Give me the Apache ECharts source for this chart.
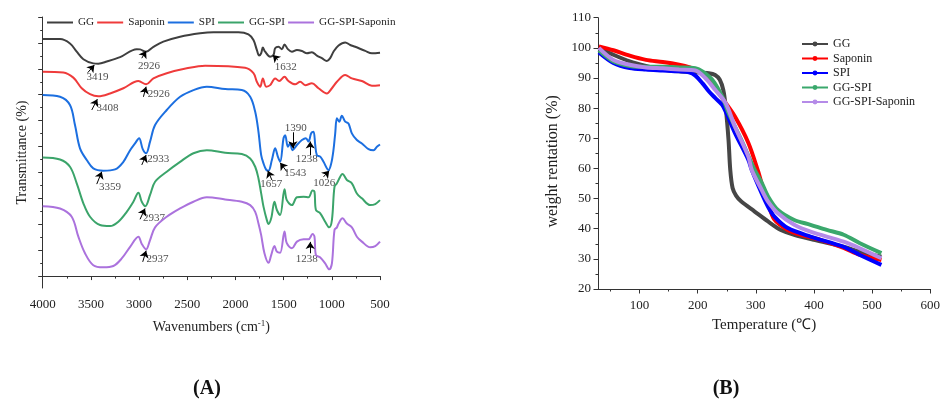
<!DOCTYPE html>
<html>
  <head>
    <meta charset="utf-8" />
    <script src="https://cdn.jsdelivr.net/npm/echarts@6.0.0/dist/echarts.min.js"></script>
    <style>
      body { margin: 0; background: #fff; }
      #ir { position: absolute; left: 0; top: 0; width: 470px; height: 401px; }
      #tga { position: absolute; left: 470px; top: 0; width: 473px; height: 401px; }
    </style>
  </head>
  <body>
    <div id="ir"></div>
    <div id="tga"></div>
    <script type="text/javascript">
      // ---- data (A): FTIR, [wavenumber, transmittance in arbitrary units] ----
      const seriesNames = ['GG', 'Saponin', 'SPI', 'GG-SPI', 'GG-SPI-Saponin'];

      const irGG = [[4000,91.5],[3820,91.5],[3717,89.8],[3647,86.6],[3578,83.7],[3475,82.1],[3423,82.0],[3335,82.8],[3197,84.5],[3024,87.6],
        [2990,87.5],[2927,86.6],[2851,88.5],[2748,90.5],[2574,92.4],[2367,93.7],[2228,94.1],[1969,94.1],[1865,93.3],[1813,91.1],
        [1778,87.3],[1754,85.1],[1733,86.0],[1716,88.2],[1692,86.6],[1640,84.7],[1605,85.3],[1588,87.9],[1553,88.5],[1518,87.6],
        [1491,89.4],[1456,87.6],[1414,86.6],[1362,87.3],[1310,86.9],[1258,86.0],[1207,86.4],[1155,85.1],[1103,84.1],[1051,83.0],
        [1017,84.1],[983,86.6],[930,89.0],[861,90.2],[809,89.2],[757,88.5],[653,86.9],[584,86.0],[500,86.2]];

      const irSaponin = [[4000,78.9],[3786,78.6],[3682,76.6],[3595,72.5],[3509,70.2],[3423,69.4],[3301,70.5],[3163,72.5],[3007,75.3],[2927,74.0],
        [2851,76.3],[2713,78.3],[2505,80.2],[2315,81.2],[1900,80.4],[1813,78.3],[1778,75.0],[1743,73.1],[1716,76.3],[1681,73.1],
        [1640,73.7],[1588,76.3],[1546,75.3],[1491,76.9],[1450,75.3],[1380,74.0],[1328,75.0],[1276,73.7],[1207,74.4],[1138,72.5],
        [1051,70.5],[999,72.5],[947,75.0],[861,77.6],[792,76.3],[688,75.3],[584,73.5],[500,73.7]];

      const irSPI = [[4000,69.9],[3820,69.2],[3717,66.0],[3665,58.3],[3613,49.3],[3543,44.8],[3475,41.6],[3371,40.7],[3249,41.2],[3163,44.1],
        [3093,48.6],[3042,51.2],[3000,53.2],[2962,49.0],[2927,47.4],[2886,51.9],[2834,58.3],[2713,64.1],[2574,69.2],[2436,71.8],
        [2297,73.1],[2107,72.2],[1934,71.8],[1847,69.2],[1795,63.4],[1761,55.7],[1733,46.7],[1709,43.5],[1680,41.0],[1657,40.7],
        [1622,44.8],[1588,49.3],[1560,46.1],[1536,44.1],[1501,53.2],[1484,54.4],[1456,49.9],[1432,51.2],[1408,48.6],[1362,50.6],
        [1310,52.5],[1269,53.2],[1242,51.9],[1214,55.1],[1190,55.7],[1172,50.6],[1155,46.7],[1120,46.1],[1086,44.1],[1034,40.9],
        [1006,43.5],[983,48.6],[965,55.0],[947,60.9],[923,59.6],[896,61.9],[861,59.6],[827,58.9],[792,55.1],[740,52.5],
        [688,51.2],[619,49.0],[567,48.6],[532,49.9],[500,50.8]];

      const irGGSPI = [[4000,45.8],[3820,45.0],[3717,42.2],[3647,35.8],[3578,28.1],[3509,22.9],[3405,19.7],[3301,19.3],[3215,21.0],[3128,24.8],
        [3059,28.7],[3007,32.2],[2972,28.7],[2935,27.0],[2886,31.3],[2834,36.4],[2713,40.3],[2574,44.1],[2436,47.4],[2297,48.6],
        [2107,47.6],[1934,47.1],[1847,45.4],[1795,42.2],[1761,37.7],[1733,31.9],[1709,26.8],[1674,21.6],[1657,20.1],[1629,22.3],
        [1595,28.7],[1570,25.5],[1536,23.6],[1491,33.5],[1467,29.3],[1414,27.4],[1362,30.4],[1293,30.6],[1242,30.4],[1200,33.0],
        [1180,32.6],[1165,25.5],[1120,24.2],[1069,21.0],[1027,18.8],[999,21.6],[972,34.5],[947,35.8],[930,37.1],[889,39.4],
        [844,37.1],[792,35.8],[740,31.9],[688,30.0],[601,27.4],[549,27.8],[500,29.3]];

      const irGGSPISaponin = [[4000,27.0],[3820,26.1],[3699,22.9],[3630,15.2],[3561,8.8],[3475,4.2],[3371,3.4],[3267,3.9],[3180,6.8],[3093,11.3],
        [3007,15.2],[2972,12.4],[2927,10.3],[2886,13.9],[2834,18.8],[2713,22.9],[2574,26.1],[2436,28.7],[2297,30.4],[2107,29.6],
        [1934,28.7],[1847,27.4],[1795,24.8],[1761,20.3],[1733,15.8],[1699,8.8],[1657,5.1],[1629,8.1],[1595,11.6],[1570,9.4],
        [1536,9.0],[1491,17.2],[1467,12.7],[1414,10.7],[1362,13.3],[1293,14.2],[1242,14.2],[1200,16.2],[1180,15.2],[1165,8.1],
        [1120,7.2],[1069,4.9],[1027,2.6],[999,4.9],[972,17.8],[947,18.8],[930,20.3],[889,22.3],[844,20.3],[792,18.8],
        [740,15.2],[688,13.3],[601,11.1],[549,11.6],[500,13.3]];

      // peak labels [wavenumber, value, text] and arrows [tail wn, tail value, head wn, head value]
      const irPeakLabels = [[3431,76.7,'3419'],[2896,81.1,'2926'],[1479,80.6,'1632'],[3327,64.7,'3408'],[2797,70.3,'2926'],
        [3301,34.5,'3359'],[2800,45.1,'2933'],[1629,35.4,'1657'],[1380,39.7,'1543'],[1079,36.0,'1026'],[1373,57.3,'1390'],
        [1259,45.2,'1238'],[2844,22.5,'2937'],[2808,6.4,'2937'],[1259,6.4,'1238']];
      const irArrows = [[3533,78.5,3464,81.5],[2972,84.1,2927,86.9],[1560,83.4,1612,85.3],[3491,64.1,3433,68.3],[2955,69.2,2927,73.1],
        [3439,35.5,3387,40.3],[2972,42.9,2927,46.7],[1622,37.1,1664,40.7],[1466,40.3,1536,43.7],[1086,38.3,1027,40.7],
        [1404,55.5,1404,49.3],[1224,46.7,1224,51.9],[2990,21.9,2938,26.1],[2962,5.5,2927,9.8],[1224,8.8,1224,13.2]];

      const irMajorTicks = [0,10,20,30,40,50,60,70,80,90,100];
      const irMinorTicks = [5,15,25,35,45,55,65,75,85,95];

      // ---- data (B): TGA, [temperature, weight %] ----
      const tgaGG = [[30,100],[55,97.7],[83,95.5],[111,94],[140,92.8],[168,92.2],[196,91.9],[219,91.6],[230,91],[238,89.4],
        [244,86],[248,80.6],[253,69.5],[256,59.5],[260,53.5],[266,51],[275,49],[298,45.7],[321,42.4],[343,39.6],
        [366,38],[400,36.3],[451,34],[479,32.4],[516,30.7]];
      const tgaSaponin = [[30,100.5],[55,99.2],[83,97.4],[111,96],[140,95.3],[168,94.4],[185,93.6],[202,92.2],[225,88.3],[244,82.8],
        [264,77.2],[287,68.5],[304,59],[310,55],[321,48.5],[332,43],[355,39.6],[377,38],[411,36.3],[451,33.6],[479,31.3],[516,29.6]];
      const tgaSPI = [[30,98.5],[55,95],[83,93.3],[111,92.8],[140,92.5],[168,92.2],[185,91.9],[196,90.8],[208,88.3],[219,85.6],
        [230,83.4],[242,81.1],[248,78.9],[264,71.8],[287,62.9],[293,59.5],[310,51.8],[321,47.3],[332,44],[355,40.2],
        [394,37.4],[451,34],[479,31.3],[516,28]];
      const tgaGGSPI = [[30,99.2],[55,95.5],[83,94],[111,93.7],[140,93.7],[168,93.5],[196,93.2],[208,92.2],[225,89.4],[242,83.9],
        [253,78.4],[275,69.5],[298,59.5],[310,55.3],[321,50.7],[338,46.2],[366,42.9],[394,41.3],[422,39.6],[451,38],[479,35.2],[516,31.9]];
      const tgaGGSPISaponin = [[30,100],[55,96],[83,94.4],[111,93.5],[140,93.2],[168,92.8],[196,92.5],[213,90],[230,86.1],[248,81.7],
        [264,73.9],[287,64],[293,59.5],[310,52.9],[321,49],[338,45.1],[366,41.3],[394,39],[451,35.7],[479,33.5],[516,30.2]];

      const tgaXTicks = [100,200,300,400,500,600];
      const tgaXMinorTicks = [50,150,250,350,450,550];

      // ---- styling ----
      const serif = 'Liberation Serif, Times New Roman, serif';
      const axisColor = '#333';
      const irColors = ['#3f3f3f', '#ef3b3b', '#1c6fe0', '#3ba46a', '#ab72dd'];
      const tgaColors = ['#464646', '#ff0000', '#0000ff', '#3aa86c', '#b58be8'];

      // ---------------- chart A ----------------
      const irChart = echarts.init(document.getElementById('ir'));
      const irData = [irGG, irSaponin, irSPI, irGGSPI, irGGSPISaponin];

      const irSeries = irData.map((d, i) => ({
        name: seriesNames[i],
        type: 'line',
        data: d,
        symbol: 'none',
        smooth: 0.35,
        lineStyle: { color: irColors[i], width: 2 },
        itemStyle: { color: irColors[i] }
      }));
      irSeries.push({
        name: 'peaks',
        type: 'scatter',
        data: irPeakLabels,
        symbolSize: 0,
        silent: true,
        label: {
          show: true,
          position: 'inside',
          formatter: p => p.value[2],
          fontFamily: serif,
          fontSize: 11,
          color: '#222'
        },
        markLine: {
          silent: true,
          symbol: ['none', 'arrow'],
          symbolSize: 7,
          label: { show: false },
          lineStyle: { color: '#000', width: 1, type: 'solid' },
          data: irArrows.map(a => [{ coord: [a[0], a[1]] }, { coord: [a[2], a[3]] }])
        }
      });

      irChart.setOption({
        animation: false,
        title: {
          text: '(A)',
          left: 202,
          textAlign: 'center',
          top: 374,
          textStyle: { fontFamily: serif, fontSize: 20, fontWeight: 'bold', color: '#111' }
        },
        legend: {
          data: seriesNames,
          left: 47,
          top: 17,
          padding: 0,
          icon: 'rect',
          itemWidth: 26,
          itemHeight: 2,
          itemGap: 3,
          textStyle: { fontFamily: serif, fontSize: 11.2, color: '#222' }
        },
        grid: { left: 42.7, right: 90, top: 17, bottom: 113 },
        xAxis: {
          type: 'value',
          min: 500,
          max: 4000,
          interval: 500,
          inverse: true,
          name: 'Wavenumbers (cm{sup|-1})',
          nameLocation: 'middle',
          nameGap: 31,
          nameTextStyle: {
            fontFamily: serif, fontSize: 14, color: '#222',
            rich: { sup: { fontFamily: serif, fontSize: 9, verticalAlign: 'top', padding: [0, 0, 7, 0] } }
          },
          axisLine: { lineStyle: { color: axisColor } },
          axisTick: { length: 4, lineStyle: { color: axisColor } },
          minorTick: { show: true, splitNumber: 2, length: 2.5, lineStyle: { color: axisColor } },
          axisLabel: { fontFamily: serif, fontSize: 13, color: '#222', margin: 10, formatter: v => String(v) },
          splitLine: { show: false }
        },
        yAxis: [
          {
            type: 'value',
            min: -4.6,
            max: 100,
            name: 'Transmittance (%)',
            nameLocation: 'middle',
            nameGap: 13,
            nameTextStyle: { fontFamily: serif, fontSize: 14, color: '#222' },
            axisLine: { show: true, lineStyle: { color: axisColor } },
            axisTick: { show: true, length: 4.5, customValues: irMajorTicks, lineStyle: { color: axisColor } },
            axisLabel: { show: false },
            splitLine: { show: false }
          },
          {
            type: 'value',
            min: -4.6,
            max: 100,
            position: 'left',
            axisLine: { show: false },
            axisTick: { show: true, length: 2.5, customValues: irMinorTicks, lineStyle: { color: axisColor } },
            axisLabel: { show: false },
            splitLine: { show: false }
          }
        ],
        series: irSeries
      });

      // ---------------- chart B ----------------
      const tgaChart = echarts.init(document.getElementById('tga'));
      const tgaData = [tgaGG, tgaSaponin, tgaSPI, tgaGGSPI, tgaGGSPISaponin];

      tgaChart.setOption({
        animation: false,
        title: {
          text: '(B)',
          left: 251,
          textAlign: 'center',
          top: 374,
          textStyle: { fontFamily: serif, fontSize: 20, fontWeight: 'bold', color: '#111' }
        },
        legend: {
          data: seriesNames,
          orient: 'vertical',
          left: 331,
          top: 38,
          padding: 0,
          itemWidth: 26,
          itemHeight: 6,
          itemGap: 2.5,
          lineStyle: { width: 2 },
          textStyle: { fontFamily: serif, fontSize: 12, color: '#222', lineHeight: 12 }
        },
        grid: { left: 128, right: 9, top: 17.7, bottom: 112 },
        xAxis: [
          {
            type: 'value',
            min: 28.5,
            max: 600,
            name: 'Temperature (℃)',
            nameLocation: 'middle',
            nameGap: 29,
            nameTextStyle: { fontFamily: serif, fontSize: 15, color: '#222' },
            axisLine: { lineStyle: { color: axisColor } },
            axisTick: { length: 4.5, customValues: tgaXTicks, lineStyle: { color: axisColor } },
            axisLabel: { customValues: tgaXTicks, fontFamily: serif, fontSize: 13, color: '#222', margin: 10 },
            splitLine: { show: false }
          },
          {
            type: 'value',
            min: 28.5,
            max: 600,
            position: 'bottom',
            axisLine: { show: false },
            axisTick: { length: 2.5, customValues: tgaXMinorTicks, lineStyle: { color: axisColor } },
            axisLabel: { show: false },
            splitLine: { show: false }
          }
        ],
        yAxis: {
          type: 'value',
          min: 20,
          max: 110,
          interval: 10,
          name: 'weight rentation (%)',
          nameLocation: 'middle',
          nameGap: 27,
          nameTextStyle: { fontFamily: serif, fontSize: 16, color: '#222', padding: [0, 16, 0, 0] },
          axisLine: { show: true, lineStyle: { color: axisColor } },
          axisTick: { show: true, length: 4.5, lineStyle: { color: axisColor } },
          minorTick: { show: true, splitNumber: 2, length: 2.5, lineStyle: { color: axisColor } },
          axisLabel: { fontFamily: serif, fontSize: 13, color: '#222', margin: 7 },
          splitLine: { show: false }
        },
        series: tgaData.map((d, i) => ({
          name: seriesNames[i],
          type: 'line',
          data: d,
          symbol: 'circle',
          symbolSize: 4,
          showSymbol: false,
          smooth: 0.3,
          lineStyle: { color: tgaColors[i], width: 4 },
          itemStyle: { color: tgaColors[i] }
        }))
      });
    </script>
  </body>
</html>
